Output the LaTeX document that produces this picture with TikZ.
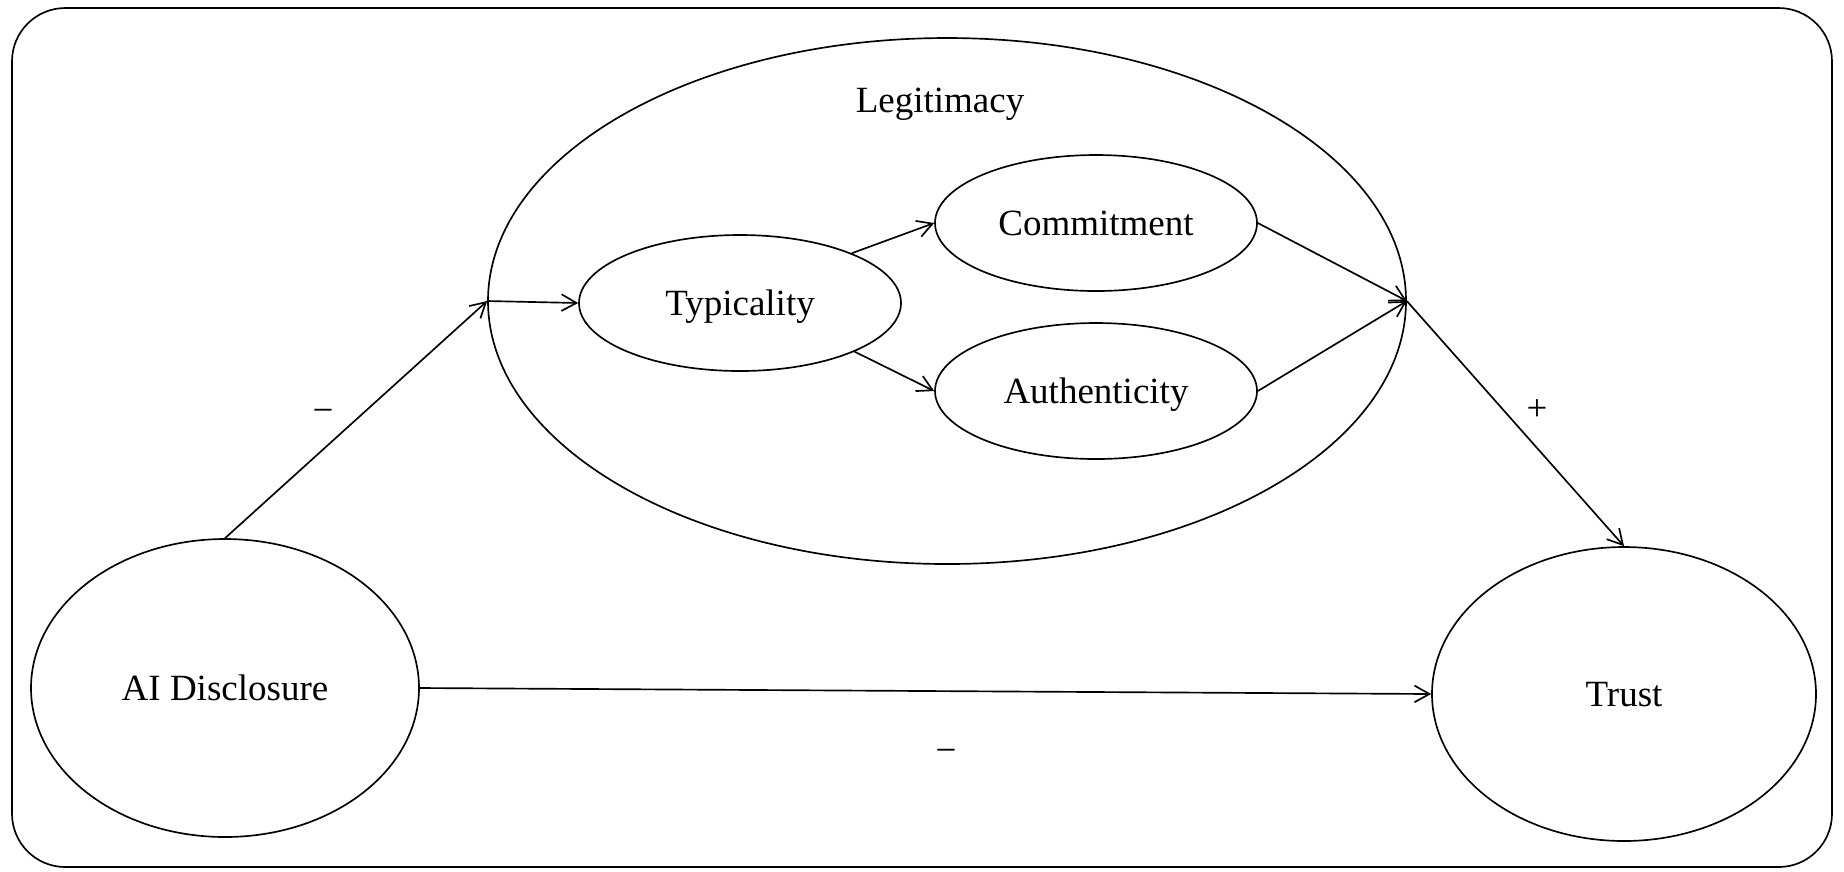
\documentclass[tikz,border=0pt]{standalone}
\usepackage{fontspec}
\setmainfont{Liberation Serif}
\usetikzlibrary{shapes.geometric,arrows.meta}

\tikzset{
    construct/.style={draw, ellipse, line width=0.5pt, inner sep=0pt, text height=7.3pt, text depth=0pt, font=\fontsize{11.1}{13}\selectfont},
    sign/.style={inner sep=0pt, text height=7.3pt, text depth=0pt, font=\fontsize{11.1}{13}\selectfont},
    link/.style={-{Straight Barb[length=4.5pt,width=5pt]}, line width=0.5pt}
}

\begin{document}
\begin{tikzpicture}[x=0.3pt, y=-0.3pt]
    \useasboundingbox (0,0) rectangle (1844,871);
    \draw[line width=0.5pt, rounded corners=16pt] (12,8) rectangle (1832,867);

    \node[construct, minimum width=275.4pt, minimum height=157.8pt] (leg) at (947,301) {};
    \node[sign] (leglabel) at (940,100) {Legitimacy};

    \node[construct, minimum width=96.6pt, minimum height=40.8pt] (typ) at (740,303) {Typicality};
    \node[construct, minimum width=96.6pt, minimum height=40.8pt] (com) at (1096,223) {Commitment};
    \node[construct, minimum width=96.6pt, minimum height=40.8pt] (aut) at (1096,391) {Authenticity};

    \node[construct, minimum width=116.4pt, minimum height=89.4pt] (dis) at (225,688) {AI Disclosure};
    \node[construct, minimum width=115.2pt, minimum height=88.2pt] (trust) at (1624,694) {Trust};

    \draw[link] (dis.north) -- (leg.west);
    \draw[link] (leg.west) -- (typ.west);
    \draw[link] (typ.24) -- (com.west);
    \draw[link] (typ.-23) -- (aut.west);
    \foreach \x in {com,aut} {
        \draw[link] (\x.east) -- (leg.east);
    }
    \draw[link] (leg.east) -- (trust.north);
    \draw[link] (dis.east) -- (trust.west);

    \node[sign] (minusa) at (323,410) {−};
    \node[sign] (minusb) at (946,750) {−};
    \node[sign] (plus) at (1537,408) {+};
\end{tikzpicture}
\end{document}
